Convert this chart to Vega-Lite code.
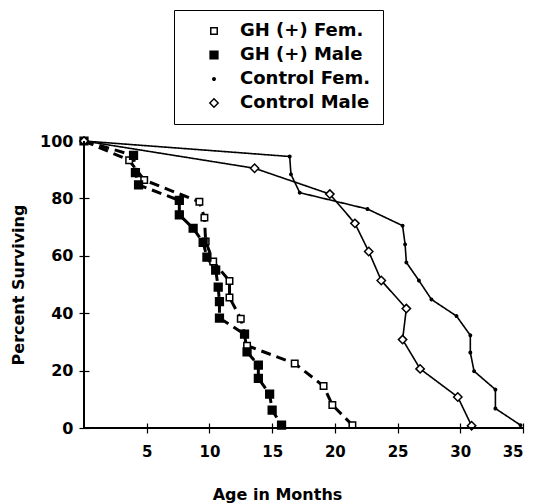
{
  "$schema": "https://vega.github.io/schema/vega-lite/v6.json",
  "width": 439,
  "height": 287,
  "autosize": {"type": "none"},
  "padding": {"left": 84, "top": 141, "right": 18, "bottom": 75},
  "background": "white",
  "config": {"view": {"stroke": null}, "font": "DejaVu Sans"},
  "data": {"values": [
    {"series": "GH (+) Fem.", "ord": 0, "age": 0, "pct": 100},
    {"series": "GH (+) Fem.", "ord": 1, "age": 3.6, "pct": 93.3},
    {"series": "GH (+) Fem.", "ord": 2, "age": 4.8, "pct": 86.4},
    {"series": "GH (+) Fem.", "ord": 3, "age": 9.2, "pct": 78.8},
    {"series": "GH (+) Fem.", "ord": 4, "age": 9.6, "pct": 73.3},
    {"series": "GH (+) Fem.", "ord": 5, "age": 9.7, "pct": 65},
    {"series": "GH (+) Fem.", "ord": 6, "age": 10.3, "pct": 58},
    {"series": "GH (+) Fem.", "ord": 7, "age": 11.6, "pct": 51.2},
    {"series": "GH (+) Fem.", "ord": 8, "age": 11.6, "pct": 45.5},
    {"series": "GH (+) Fem.", "ord": 9, "age": 12.5, "pct": 38.1},
    {"series": "GH (+) Fem.", "ord": 10, "age": 13, "pct": 28.7},
    {"series": "GH (+) Fem.", "ord": 11, "age": 16.8, "pct": 22.5},
    {"series": "GH (+) Fem.", "ord": 12, "age": 19.1, "pct": 14.6},
    {"series": "GH (+) Fem.", "ord": 13, "age": 19.8, "pct": 8},
    {"series": "GH (+) Fem.", "ord": 14, "age": 21.4, "pct": 1},
    {"series": "GH (+) Male", "ord": 0, "age": 0, "pct": 100},
    {"series": "GH (+) Male", "ord": 1, "age": 3.95, "pct": 95},
    {"series": "GH (+) Male", "ord": 2, "age": 4.1, "pct": 89},
    {"series": "GH (+) Male", "ord": 3, "age": 4.35, "pct": 84.7},
    {"series": "GH (+) Male", "ord": 4, "age": 7.6, "pct": 79.3},
    {"series": "GH (+) Male", "ord": 5, "age": 7.6, "pct": 74.3},
    {"series": "GH (+) Male", "ord": 6, "age": 8.7, "pct": 69.6},
    {"series": "GH (+) Male", "ord": 7, "age": 9.5, "pct": 64.7},
    {"series": "GH (+) Male", "ord": 8, "age": 9.8, "pct": 59.5},
    {"series": "GH (+) Male", "ord": 9, "age": 10.5, "pct": 55},
    {"series": "GH (+) Male", "ord": 10, "age": 10.7, "pct": 49.1},
    {"series": "GH (+) Male", "ord": 11, "age": 10.8, "pct": 44},
    {"series": "GH (+) Male", "ord": 12, "age": 10.8, "pct": 38.3},
    {"series": "GH (+) Male", "ord": 13, "age": 12.8, "pct": 32.7},
    {"series": "GH (+) Male", "ord": 14, "age": 13, "pct": 26.5},
    {"series": "GH (+) Male", "ord": 15, "age": 13.9, "pct": 21.9},
    {"series": "GH (+) Male", "ord": 16, "age": 13.9, "pct": 17.3},
    {"series": "GH (+) Male", "ord": 17, "age": 14.8, "pct": 11.8},
    {"series": "GH (+) Male", "ord": 18, "age": 15, "pct": 6.2},
    {"series": "GH (+) Male", "ord": 19, "age": 15.75, "pct": 1},
    {"series": "Control Fem.", "ord": 0, "age": 0, "pct": 100},
    {"series": "Control Fem.", "ord": 1, "age": 16.4, "pct": 94.6},
    {"series": "Control Fem.", "ord": 2, "age": 16.5, "pct": 88.4},
    {"series": "Control Fem.", "ord": 3, "age": 17.2, "pct": 82},
    {"series": "Control Fem.", "ord": 4, "age": 22.6, "pct": 76.3},
    {"series": "Control Fem.", "ord": 5, "age": 25.4, "pct": 70.5},
    {"series": "Control Fem.", "ord": 6, "age": 25.6, "pct": 64},
    {"series": "Control Fem.", "ord": 7, "age": 25.7, "pct": 57.7},
    {"series": "Control Fem.", "ord": 8, "age": 26.7, "pct": 51.4},
    {"series": "Control Fem.", "ord": 9, "age": 27.7, "pct": 44.8},
    {"series": "Control Fem.", "ord": 10, "age": 29.7, "pct": 39},
    {"series": "Control Fem.", "ord": 11, "age": 30.8, "pct": 32.3},
    {"series": "Control Fem.", "ord": 12, "age": 30.8, "pct": 26.3},
    {"series": "Control Fem.", "ord": 13, "age": 31.1, "pct": 19.8},
    {"series": "Control Fem.", "ord": 14, "age": 32.8, "pct": 13.4},
    {"series": "Control Fem.", "ord": 15, "age": 32.8, "pct": 6.8},
    {"series": "Control Fem.", "ord": 16, "age": 34.8, "pct": 1},
    {"series": "Control Male", "ord": 0, "age": 0, "pct": 100},
    {"series": "Control Male", "ord": 1, "age": 13.6, "pct": 90.5},
    {"series": "Control Male", "ord": 2, "age": 19.6, "pct": 81.5},
    {"series": "Control Male", "ord": 3, "age": 21.6, "pct": 71.3},
    {"series": "Control Male", "ord": 4, "age": 22.7, "pct": 61.5},
    {"series": "Control Male", "ord": 5, "age": 23.7, "pct": 51.4},
    {"series": "Control Male", "ord": 6, "age": 25.7, "pct": 41.6},
    {"series": "Control Male", "ord": 7, "age": 25.4, "pct": 30.8},
    {"series": "Control Male", "ord": 8, "age": 26.8, "pct": 20.6},
    {"series": "Control Male", "ord": 9, "age": 29.8, "pct": 10.8},
    {"series": "Control Male", "ord": 10, "age": 30.9, "pct": 0.8}
  ]},
  "layer": [
    {
      "mark": {"type": "line", "color": "black", "clip": false},
      "encoding": {
        "x": {"field": "age", "type": "quantitative",
              "scale": {"domain": [0, 35], "nice": false},
              "axis": {"title": "Age in Months", "values": [5, 10, 15, 20, 25, 30, 35],
                       "domain": false, "grid": false, "offset": -5, "tickSize": 10, "tickColor": "black", "tickWidth": 1.2,
                       "labelPadding": 11, "labelFont": "DejaVu Sans", "labelFontSize": 15, "labelFontWeight": "bold", "labelColor": "black",
                       "titleFont": "DejaVu Sans", "titleFontSize": 16, "titleFontWeight": "bold", "titleColor": "black",
                       "titleX": 193, "titleY": 76, "titleBaseline": "alphabetic", "titleAlign": "center"}},
        "y": {"field": "pct", "type": "quantitative",
              "scale": {"domain": [0, 100], "nice": false},
              "axis": {"title": "Percent Surviving", "values": [0, 10, 20, 30, 40, 50, 60, 70, 80, 90, 100],
                       "labelExpr": "datum.value % 20 === 0 ? datum.label : ''",
                       "domain": false, "grid": false, "offset": -5, "tickSize": 10, "tickColor": "black", "tickWidth": 1.2,
                       "labelPadding": 6, "labelFont": "DejaVu Sans", "labelFontSize": 16, "labelFontWeight": "bold", "labelColor": "black",
                       "titleFont": "DejaVu Sans", "titleFontSize": 16, "titleFontWeight": "bold", "titleColor": "black",
                       "titleX": -71, "titleY": 143.5, "titleAngle": 270, "titleBaseline": "middle", "titleAlign": "center"}},
        "order": {"field": "ord", "type": "quantitative"},
        "strokeDash": {"field": "series", "type": "nominal",
                       "scale": {"domain": ["Control Fem.", "Control Male", "GH (+) Fem.", "GH (+) Male"],
                                 "range": [[1, 0], [1, 0], [10, 6], [10, 6]]},
                       "legend": null},
        "strokeWidth": {"field": "series", "type": "nominal",
                        "scale": {"type": "ordinal", "domain": ["Control Fem.", "Control Male", "GH (+) Fem.", "GH (+) Male"],
                                  "range": [1.6, 1.6, 3, 3]},
                        "legend": null}
      }
    },
    {
      "mark": {"type": "point", "filled": true, "stroke": "black", "strokeWidth": 1.5, "opacity": 1, "clip": false},
      "encoding": {
        "x": {"field": "age", "type": "quantitative"},
        "y": {"field": "pct", "type": "quantitative"},
        "shape": {"field": "series", "type": "nominal",
                  "scale": {"domain": ["GH (+) Fem.", "GH (+) Male", "Control Fem.", "Control Male"],
                            "range": ["square", "square", "circle", "diamond"]},
                  "legend": {
                    "title": null, "orient": "none", "legendX": 90, "legendY": -131,
                    "strokeColor": "black", "fillColor": "white", "padding": 12, "rowPadding": 6,
                    "symbolSize": 64, "symbolOffset": 19, "labelOffset": 17,
                    "symbolStrokeColor": "black", "symbolStrokeWidth": 1.5, "symbolOpacity": 1,
                    "labelFont": "DejaVu Sans", "labelFontSize": 18, "labelFontWeight": "bold", "labelColor": "black", "labelLimit": 400
                  }},
        "fill": {"field": "series", "type": "nominal",
                 "scale": {"domain": ["GH (+) Fem.", "GH (+) Male", "Control Fem.", "Control Male"],
                           "range": ["white", "black", "black", "white"]}},
        "size": {"field": "series", "type": "nominal",
                 "scale": {"type": "ordinal", "domain": ["GH (+) Fem.", "GH (+) Male", "Control Fem.", "Control Male"],
                           "range": [42, 60, 6, 70]}}
      }
    },
    {
      "mark": {"type": "rule", "color": "black", "strokeWidth": 1.5},
      "encoding": {"y": {"datum": 0}}
    },
    {
      "mark": {"type": "rule", "color": "black", "strokeWidth": 1.5},
      "encoding": {"x": {"datum": 0}}
    }
  ]
}
